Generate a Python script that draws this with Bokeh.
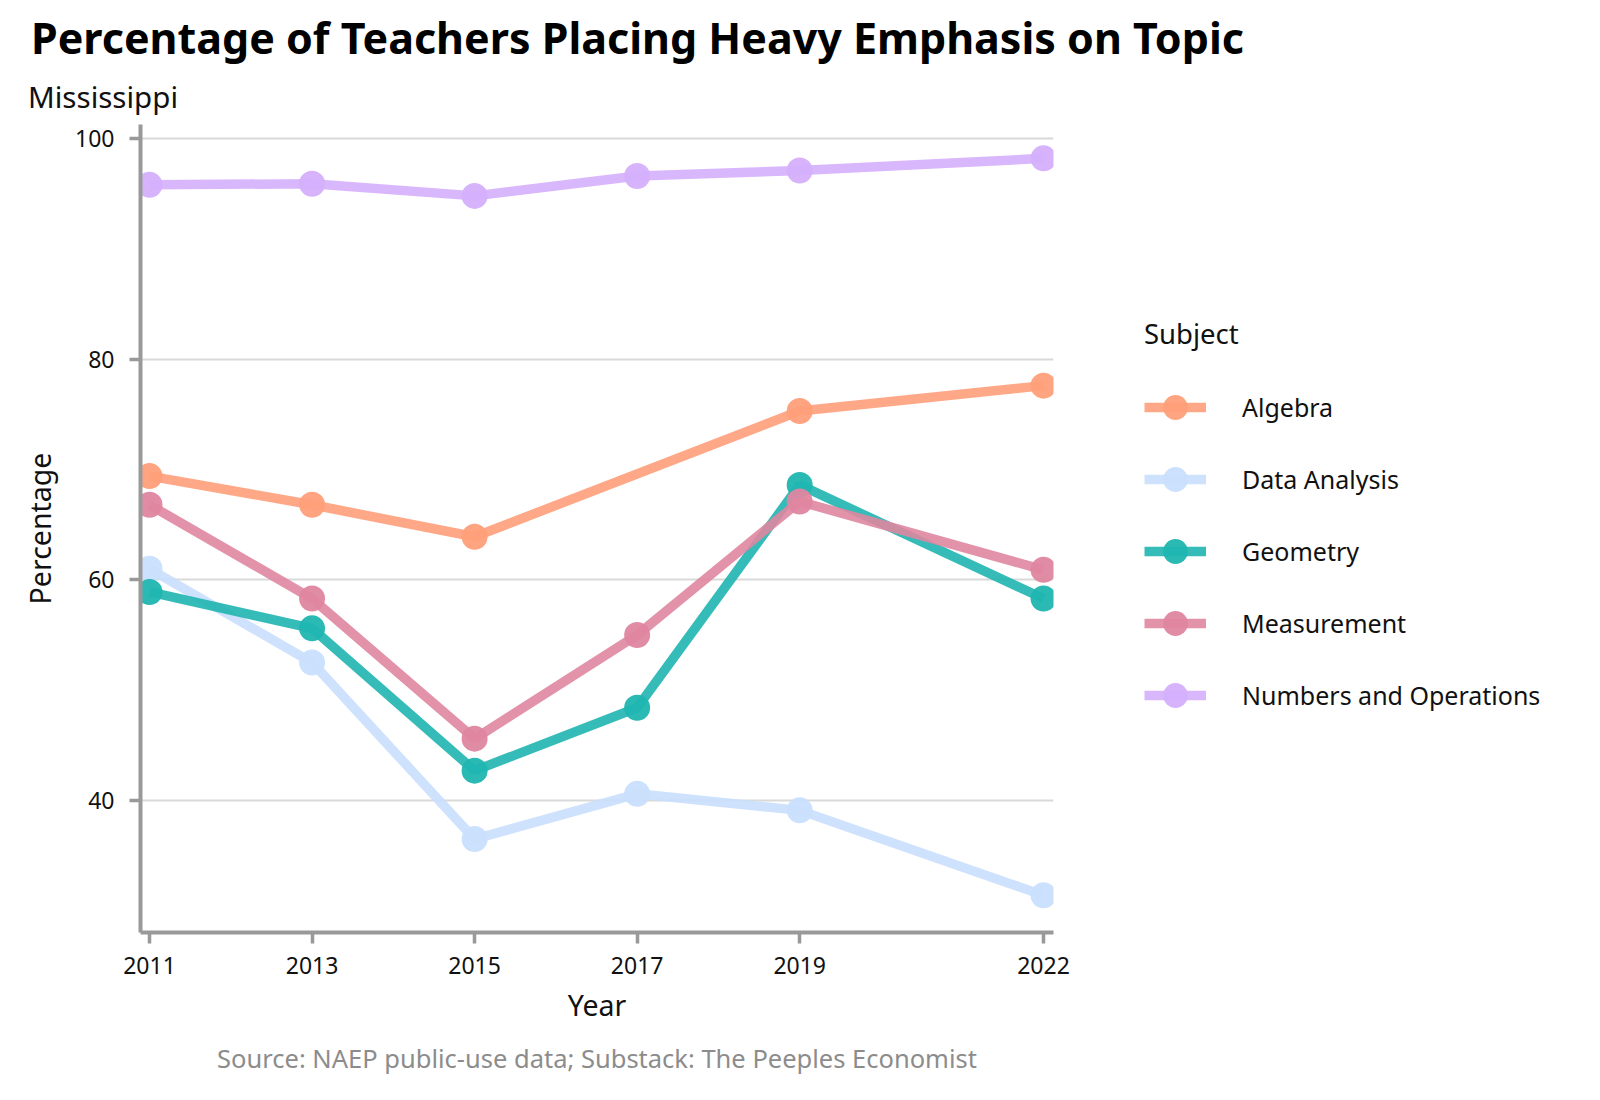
from bokeh.plotting import figure
from bokeh.models import Legend, LegendItem, FixedTicker, ColumnDataSource, Title
from bokeh.embed import file_html
from bokeh.resources import INLINE

# ---- data ----
years = [2011, 2013, 2015, 2017, 2019, 2022]
subjects = ["Algebra", "Data Analysis", "Geometry", "Measurement", "Numbers and Operations"]
algebra = [69.4, 66.8, 63.9, None, 75.3, 77.6]
data_analysis = [61.0, 52.5, 36.5, 40.6, 39.1, 31.4]
geometry = [58.9, 55.6, 42.7, 48.4, 68.6, 58.3]
measurement = [66.8, 58.3, 45.6, 55.0, 67.1, 60.9]
numbers_ops = [95.8, 95.9, 94.8, 96.6, 97.1, 98.2]
y_ticks = [40, 60, 80, 100]
x_ticks = years
title_text = "Percentage of Teachers Placing Heavy Emphasis on Topic"
subtitle_text = "Mississippi"
source_text = "Source: NAEP public-use data; Substack: The Peeples Economist"

series = [algebra, data_analysis, geometry, measurement, numbers_ops]
colors = ["#FF9F7A", "#C9DFFD", "#20B5B0", "#DF86A0", "#D5AFFC"]

FONT = "Noto Sans"

p = figure(
    output_backend="svg", toolbar_location=None,
    frame_width=913, frame_height=808,
    min_border_left=140, min_border_right=531,
    min_border_top=124, min_border_bottom=152,
    x_range=(2010.889, 2022.123), y_range=(28.03, 101.27),
)
p.outline_line_color = None
p.background_fill_color = "white"
p.border_fill_color = "white"

# titles
p.title.text = title_text
p.title.text_font = FONT
p.title.text_font_size = "43px"
p.title.text_font_style = "bold"
p.title.text_color = "#000000"
p.title.align = "left"
p.title.offset = -109.5
p.title.standoff = 0
p.add_layout(Title(text=subtitle_text,
                   text_font=FONT, text_font_size="29.5px", text_font_style="normal",
                   text_color="#111111", align="left", offset=-112.5, standoff=15,
                   text_line_height=1.3), "above")

# source caption
p.add_layout(Title(text=source_text,
                   text_font=FONT, text_font_size="25.5px", text_font_style="normal",
                   text_color="#8C8C8C", align="center", standoff=25), "below")

# grid
p.xgrid.visible = False
p.ygrid.grid_line_color = "#D9D9D9"
p.ygrid.grid_line_width = 2
p.ygrid.ticker = FixedTicker(ticks=y_ticks)

# axes
for ax in (p.xaxis[0], p.yaxis[0]):
    ax.axis_line_color = "#999999"
    ax.axis_line_width = 4
    ax.major_tick_line_color = "#999999"
    ax.major_tick_line_width = 3.5
    ax.major_tick_out = 11
    ax.major_tick_in = 0
    ax.minor_tick_line_color = None
    ax.major_label_text_font = FONT
    ax.major_label_text_font_size = "23px"
    ax.major_label_text_color = "#111111"
    ax.axis_label_text_font = FONT
    ax.axis_label_text_font_size = "28.5px"
    ax.axis_label_text_font_style = "normal"
    ax.axis_label_text_color = "#111111"

p.xaxis.ticker = FixedTicker(ticks=x_ticks)
p.yaxis.ticker = FixedTicker(ticks=y_ticks)
p.xaxis.axis_label = "Year"
p.yaxis.axis_label = "Percentage"
p.xaxis.major_label_standoff = 13
p.yaxis.major_label_standoff = 15
p.xaxis.axis_label_standoff = 9
p.yaxis.axis_label_standoff = 13

line_renderers = []
for vals, col in zip(series, colors):
    xs = [x for x, v in zip(years, vals) if v is not None]
    ys = [v for v in vals if v is not None]
    src = ColumnDataSource(dict(x=xs, y=ys))
    r = p.line("x", "y", source=src, line_color=col, line_width=9.5, line_alpha=0.9)
    line_renderers.append((r, src))

items = []
for (lr, src), col, name in zip(line_renderers, colors, subjects):
    c = p.scatter("x", "y", source=src, size=26, marker="circle",
                  fill_color=col, line_color=None, fill_alpha=0.95)
    items.append(LegendItem(label=name, renderers=[lr, c]))

legend = Legend(
    items=items, title="Subject",
    location=(91, 204),
    orientation="vertical",
    glyph_width=62, glyph_height=66, label_height=66,
    spacing=6, label_standoff=36, padding=0, margin=0,
    border_line_color=None, background_fill_alpha=0,
    label_text_font=FONT, label_text_font_size="25px", label_text_color="#111111",
    title_text_font=FONT, title_text_font_size="27.5px", title_text_font_style="normal",
    title_text_color="#111111", title_standoff=22,
)
p.add_layout(legend, "right")

open("out.html", "w").write(file_html(p, INLINE))
